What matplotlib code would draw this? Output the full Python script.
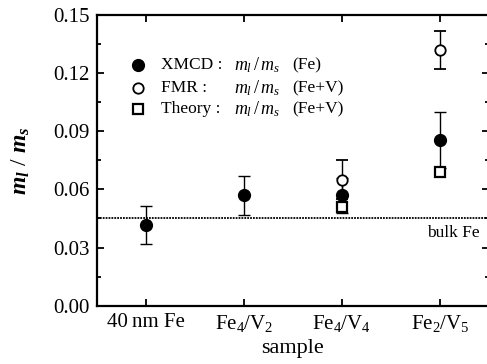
import numpy as np
import matplotlib
matplotlib.use("Agg")
import matplotlib.pyplot as plt

plt.rcParams['font.family'] = 'Liberation Serif'
plt.rcParams['mathtext.fontset'] = 'custom'
plt.rcParams['mathtext.rm'] = 'Liberation Serif'
plt.rcParams['mathtext.it'] = 'Liberation Serif:italic'
plt.rcParams['mathtext.bf'] = 'Liberation Serif:bold:italic'

samples = ['40\u2009nm Fe', r'Fe$_\mathregular{4}$/V$_\mathregular{2}$',
           r'Fe$_\mathregular{4}$/V$_\mathregular{4}$', r'Fe$_\mathregular{2}$/V$_\mathregular{5}$']
xmcd_x = [1, 2, 3, 4]
xmcd = [0.0417, 0.057, 0.057, 0.0855]
xmcd_err = [0.010, 0.010, 0.009, 0.0145]
fmr_x = [3, 4]
fmr = [0.065, 0.132]
fmr_err = [0.010, 0.010]
theory_x = [3, 4]
theory = [0.051, 0.069]
bulk_fe = 0.045

fig = plt.figure(figsize=(4.87, 3.64), dpi=100)
ax = fig.add_axes([96.7 / 487, 1 - 305.7 / 364, (489 - 96.7) / 487, (305.7 - 15) / 364])

ax.axhline(bulk_fe, color='black', lw=1.3, ls=(0, (1, 0.6)), zorder=1)
ax.text(0.977, bulk_fe - 0.0035, 'bulk Fe', transform=ax.get_yaxis_transform(),
        ha='right', va='top', fontsize=12.5)

ax.errorbar(xmcd_x, xmcd, yerr=xmcd_err, fmt='o', color='black', mfc='black',
            ms=8.5, capsize=4.5, elinewidth=1, capthick=1, zorder=3)
ax.errorbar(fmr_x, fmr, yerr=fmr_err, fmt='o', color='black', mfc='white',
            ms=7.5, mew=1.3, capsize=4.5, elinewidth=1, capthick=1, zorder=4)
ax.plot(theory_x, theory, 's', color='black', mfc='white', ms=6.5, mew=1.6, zorder=5)

# legend drawn by hand
leg_y = [0.1242, 0.1123, 0.1015]
leg_names = ['XMCD :', 'FMR :', 'Theory :']
leg_tail = ['(Fe)', '(Fe+V)', '(Fe+V)']
ax.plot([0.92], [leg_y[0]], 'o', color='black', ms=8.5)
ax.plot([0.92], [leg_y[1]], 'o', color='black', mfc='white', ms=7.5, mew=1.3)
ax.plot([0.92], [leg_y[2]], 's', color='black', mfc='white', ms=6.5, mew=1.6)
for yy, name, tail in zip(leg_y, leg_names, leg_tail):
    ax.text(1.16, yy, name, fontsize=12.5, va='center', ha='left')
    ax.text(1.90, yy, r'$m_l\,/\,m_s$', fontsize=13, va='center', ha='left')
    ax.text(2.49, yy, tail, fontsize=12.5, va='center', ha='left')

ax.set_xlim(0.5, 4.5)
ax.set_ylim(0, 0.15)
ax.set_xticks([1, 2, 3, 4])
ax.set_xticklabels(samples, fontsize=15)
ax.set_yticks(np.arange(0, 0.151, 0.03))
ax.set_yticklabels(['%.2f' % v for v in np.arange(0, 0.151, 0.03)], fontsize=15)
ax.set_yticks(np.arange(0.015, 0.15, 0.03), minor=True)
ax.tick_params(direction='in', width=1.3, length=5, top=True, right=True, pad=5)
ax.tick_params(which='minor', direction='in', width=1.3, length=3, right=True)
for s in ax.spines.values():
    s.set_linewidth(1.6)

ax.set_xlabel('sample', fontsize=16, labelpad=4)
ax.set_ylabel(r'$\mathbf{m_l}$ / $\mathbf{m_s}$', fontsize=17, labelpad=15)

fig.savefig('out.png', dpi=100)
